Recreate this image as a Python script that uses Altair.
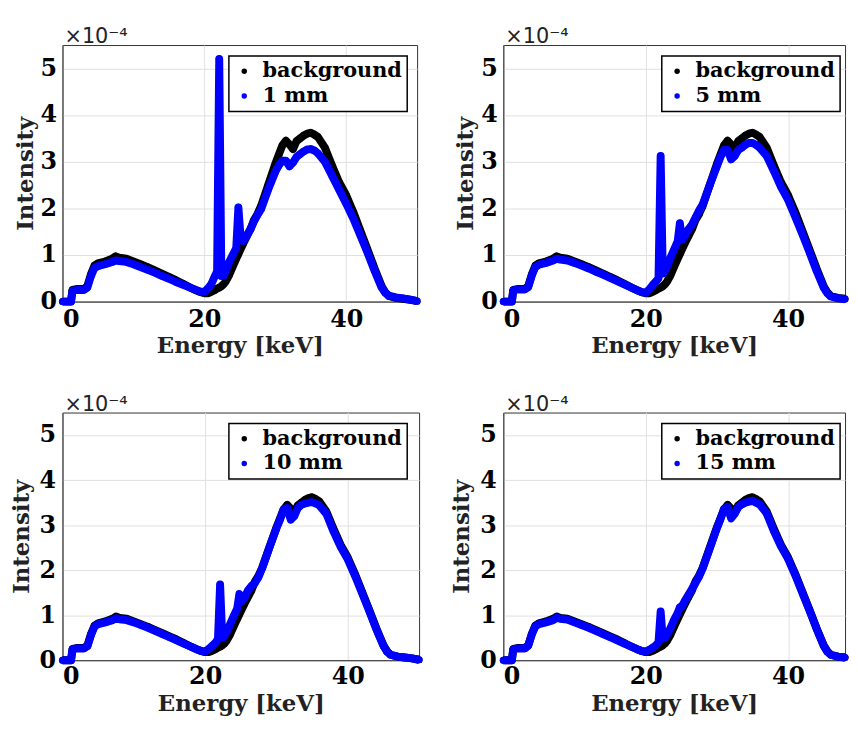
import altair as alt
import pandas as pd

# Energy grid [keV]
energy = [0, 1.2, 1.4, 2, 3, 3.5, 4, 4.5, 5, 6, 7, 7.5, 8, 9, 10, 11, 12, 13, 14, 15,
          16, 17, 18, 19, 19.5, 20, 20.5, 21, 21.5, 21.8, 22.1, 22.4, 22.7, 23, 23.5,
          24, 24.5, 24.8, 25.1, 25.5, 26, 26.5, 27, 27.5, 28, 29, 30, 30.5, 31, 31.5,
          32, 32.5, 33, 33.5, 34, 34.5, 35, 35.5, 36, 37, 38, 39, 40, 41, 42, 43, 44,
          45, 45.5, 46, 47, 48, 49, 50]

# Intensities in units of 1e-4
background = [0.0, 0.0, 0.25, 0.27, 0.27, 0.33, 0.58, 0.77, 0.82, 0.86, 0.92, 0.97, 0.94, 0.92, 0.86, 0.80, 0.74, 0.67, 0.60, 0.53,
              0.46, 0.38, 0.30, 0.23, 0.20, 0.18, 0.18, 0.21, 0.25, 0.28, 0.30, 0.33, 0.37, 0.43, 0.57,
              0.75, 0.92, 1.02, 1.12, 1.25, 1.40, 1.55, 1.75, 1.88, 2.05, 2.50, 2.95, 3.15, 3.35, 3.45,
              3.37, 3.27, 3.44, 3.50, 3.56, 3.60, 3.62, 3.58, 3.53, 3.30, 2.92, 2.56, 2.28, 1.92, 1.52, 1.12, 0.71,
              0.33, 0.20, 0.12, 0.08, 0.06, 0.04, 0.01]

sample_1mm = [0.0, 0.0, 0.23, 0.25, 0.25, 0.30, 0.54, 0.72, 0.76, 0.80, 0.85, 0.88, 0.87, 0.85, 0.80, 0.74, 0.68, 0.62, 0.55, 0.49,
              0.42, 0.36, 0.30, 0.24, 0.21, 0.21, 0.28, 0.38, 0.55, 0.65, 5.20, 0.55, 0.55, 0.65, 0.85,
              1.00, 1.15, 2.02, 1.40, 1.30, 1.42, 1.55, 1.72, 1.86, 1.98, 2.40, 2.78, 2.92, 3.02, 3.02,
              2.90, 2.98, 3.10, 3.16, 3.22, 3.26, 3.27, 3.24, 3.18, 3.00, 2.70, 2.40, 2.10, 1.78, 1.42, 1.05, 0.66,
              0.30, 0.19, 0.13, 0.09, 0.07, 0.04, 0.01]

sample_5mm = [0.0, 0.0, 0.24, 0.26, 0.26, 0.31, 0.56, 0.74, 0.79, 0.83, 0.88, 0.92, 0.90, 0.88, 0.83, 0.77, 0.71, 0.64, 0.58, 0.51,
              0.44, 0.37, 0.30, 0.23, 0.20, 0.19, 0.26, 0.36, 0.44, 0.50, 3.12, 0.60, 0.66, 0.75, 0.95,
              1.12, 1.30, 1.68, 1.33, 1.40, 1.55, 1.65, 1.80, 1.95, 2.08, 2.50, 2.90, 3.10, 3.25, 3.25,
              3.05, 3.12, 3.25, 3.30, 3.36, 3.40, 3.40, 3.36, 3.30, 3.12, 2.80, 2.46, 2.18, 1.82, 1.45, 1.06, 0.66,
              0.30, 0.18, 0.11, 0.07, 0.05, 0.03, 0.01]

sample_10mm = [0.0, 0.0, 0.24, 0.26, 0.26, 0.31, 0.56, 0.75, 0.80, 0.84, 0.89, 0.93, 0.91, 0.89, 0.84, 0.78, 0.72, 0.65, 0.58, 0.51,
               0.44, 0.37, 0.30, 0.23, 0.20, 0.19, 0.25, 0.32, 0.40, 0.47, 1.68, 0.50, 0.55, 0.62, 0.80,
               0.98, 1.15, 1.47, 1.30, 1.38, 1.55, 1.65, 1.72, 1.85, 2.05, 2.50, 2.93, 3.12, 3.35, 3.38,
               3.12, 3.20, 3.38, 3.45, 3.48, 3.50, 3.51, 3.48, 3.44, 3.25, 2.86, 2.52, 2.24, 1.88, 1.49, 1.10, 0.69,
               0.32, 0.19, 0.12, 0.08, 0.06, 0.04, 0.01]

sample_15mm = [0.0, 0.0, 0.24, 0.26, 0.26, 0.32, 0.57, 0.75, 0.80, 0.84, 0.89, 0.94, 0.92, 0.90, 0.84, 0.78, 0.72, 0.65, 0.58, 0.51,
               0.44, 0.37, 0.30, 0.23, 0.20, 0.19, 0.23, 0.28, 0.34, 0.40, 1.08, 0.48, 0.50, 0.57, 0.72,
               0.90, 1.05, 1.18, 1.20, 1.32, 1.45, 1.58, 1.72, 1.86, 2.04, 2.48, 2.93, 3.13, 3.36, 3.40,
               3.15, 3.25, 3.40, 3.46, 3.50, 3.52, 3.54, 3.50, 3.46, 3.26, 2.87, 2.53, 2.25, 1.89, 1.50, 1.11, 0.70,
               0.32, 0.19, 0.12, 0.08, 0.06, 0.04, 0.01]

x_ticks = [0, 20, 40]
y_ticks = [0, 1, 2, 3, 4, 5]
labels = ["1 mm", "5 mm", "10 mm", "15 mm"]

SERIF = "DejaVu Serif"
BLUE = "#0000ff"
BLACK = "#000000"


def panel(sample, label, width, xmax, height, ylab_pad, ytitle_pad, xlab_pad, xtitle_pad, leg_x):
    n = len(energy)
    df = pd.DataFrame({
        "energy": energy + energy,
        "intensity": background + sample,
        "series": ["background"] * n + [label] * n,
    })
    x = alt.X("energy:Q", scale=alt.Scale(domain=[0, xmax], nice=False, zero=False),
              axis=alt.Axis(values=x_ticks, title="Energy [keV]", format="d",
                            labelPadding=xlab_pad, titlePadding=xtitle_pad))
    y = alt.Y("intensity:Q", scale=alt.Scale(domain=[0, 5.5], nice=False),
              axis=alt.Axis(values=y_ticks, title="Intensity", format="d",
                            labelPadding=ylab_pad, titlePadding=ytitle_pad))
    color = alt.Color("series:N",
                      scale=alt.Scale(domain=["background", label], range=[BLACK, BLUE]),
                      legend=alt.Legend(title=None, orient="none", legendX=leg_x, legendY=11, offset=0))
    base = alt.Chart(df).transform_filter(alt.datum.energy <= xmax)
    layers = []
    for name, col in [("background", BLACK), (label, BLUE)]:
        sub = base.transform_filter(alt.datum.series == name)
        layers.append(sub.mark_line(strokeWidth=8, color=col,
                                    strokeJoin="round", strokeCap="butt").encode(x=x, y=y))
        layers.append(sub.mark_circle(size=50, opacity=1).encode(x=x, y=y, color=color))
    return alt.layer(*layers).properties(
        width=width, height=height,
        title=alt.Title("×10⁻⁴", anchor="start", frame="group", dx=2, offset=-2,
                        font="DejaVu Sans", fontSize=21, fontWeight="normal", color="#222222"),
    )


p1 = panel(sample_1mm, labels[0], 358, 50, 259, 6, 3, 6, 3, 168)
p2 = panel(sample_5mm, labels[1], 345, 48, 259, 6, 3, 6, 3, 160)
p3 = panel(sample_10mm, labels[2], 360, 50, 250, 7, 6, 5, 4, 168)
p4 = panel(sample_15mm, labels[3], 345, 48, 250, 7, 6, 5, 4, 160)

row1 = alt.hconcat(p1, p2, spacing=32).resolve_scale(color="independent").resolve_legend(color="independent")
row2 = alt.hconcat(p3, p4, spacing=26).resolve_scale(color="independent").resolve_legend(color="independent")

chart = alt.vconcat(row1, row2, spacing=35).resolve_scale(color="independent").resolve_legend(color="independent")

chart = chart.configure(padding={"left": 1, "top": 14, "right": 0, "bottom": 0}, background="white").configure_view(
    stroke="#333333", strokeWidth=1
).configure_axis(
    labelFont=SERIF, labelFontSize=24, labelFontWeight="bold", labelColor=BLACK,
    titleFont=SERIF, titleFontSize=23, titleFontWeight="bold", titleColor="#222222",
    gridColor="#e0e0e0", gridWidth=1, domainColor="#333333", ticks=False,
).configure_legend(
    labelFont=SERIF, labelFontSize=21, labelFontWeight="bold", labelColor=BLACK,
    symbolType="circle", symbolSize=30, strokeColor=BLACK, fillColor="white",
    padding=5, rowPadding=3, labelOffset=8, cornerRadius=0, strokeWidth=1.5,
)

chart.save("out.html", embed_options={"renderer": "svg", "actions": False})
